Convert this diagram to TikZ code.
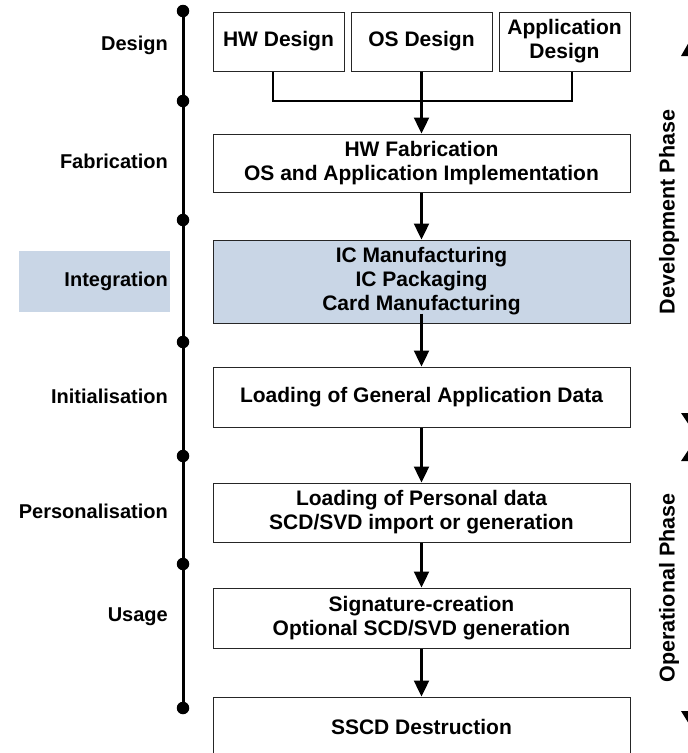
\documentclass[tikz,border=0pt]{standalone}
\usepackage{fontspec}
\setmainfont{Liberation Sans}
\usetikzlibrary{arrows.meta}
\definecolor{hl}{HTML}{C9D6E6}
\begin{document}
\begin{tikzpicture}[x=1pt,y=-1pt,
  box/.style={draw=black!85,line width=1pt,minimum width=417pt,inner sep=0pt,align=center,font=\fontsize{21}{24}\selectfont\bfseries},
  lbl/.style={anchor=east,inner sep=0pt,font=\fontsize{20}{24}\selectfont\bfseries},
  phase/.style={rotate=90,inner sep=0pt,font=\fontsize{21.5}{24}\selectfont\bfseries},
  dot/.style={circle,fill=black,inner sep=0pt,minimum size=12.5pt},
  conn/.style={line width=2.4pt},
  arr/.style={line width=2.4pt,-{Triangle[length=16pt,width=15pt]}},
  tri/.style={fill=black}]
\useasboundingbox (0,0) rectangle (688,753);
\clip (0,0) rectangle (688,753);
% timeline
\foreach \n/\y in {d1/11,d2/101,d3/220,d4/342,d5/456,d6/564,d7/708}
  \node[dot] (\n) at (183,\y) {};
\draw[line width=3pt] (d1.center) -- (d7.center);
% labels
\node[fill=hl,minimum width=151pt,minimum height=61pt] (hlbox) at (94.5,281.5) {};
\node[lbl] (l1) at (168,45) {Design};
\node[lbl] (l2) at (168,161) {Fabrication};
\node[lbl] (l3) at (168,281) {Integration};
\node[lbl] (l4) at (168,396) {Initialisation};
\node[lbl] (l5) at (168,511) {Personalisation};
\node[lbl] (l6) at (168,617) {Usage};
% boxes
\node[box,minimum width=131pt,minimum height=59pt] (hw) at (278.5,41.5) {HW Design};
\node[box,minimum width=141pt,minimum height=59pt] (os) at (421.5,41.5) {OS Design};
\node[box,minimum width=131pt,minimum height=59pt] (app) at (564.5,41.5) {Application\\Design};
\node[box,minimum height=58pt] (fab) at (421.5,163) {HW Fabrication\\OS and Application Implementation};
\node[box,fill=hl,minimum height=83pt] (integ) at (421.5,281.5) {IC Manufacturing\\IC Packaging\\Card Manufacturing};
\node[box,minimum height=60pt] (init) at (421.5,397) {Loading of General Application Data};
\node[box,minimum height=59pt] (pers) at (421.5,512.5) {Loading of Personal data\\SCD/SVD import or generation};
\node[box,minimum height=60pt] (use) at (421.5,618) {Signature-creation\\Optional SCD/SVD generation};
\node[box,minimum height=59pt] (sscd) at (421.5,726.5) {SSCD Destruction};
% connectors
\coordinate (jl) at (273,101);
\coordinate (jr) at (572,101);
\draw[conn] ([xshift=-5.5pt]hw.south) -- (jl) -- (jr) -- ([xshift=7.5pt]app.south);
\draw[arr] (os.south) -- (fab.north);
\draw[arr] (fab.south) -- (integ.north);
\draw[arr] ([yshift=10pt]integ.south) -- (init.north);
\draw[arr] (init.south) -- (pers.north);
\draw[arr] (pers.south) -- (use.north);
\draw[arr] (use.south) -- (sscd.north);
% phases
\node[phase] (dev) at (669,212) {Development Phase};
\node[phase] (op) at (669,588) {Operational Phase};
\fill[tri] (681,56) -- (697,28) -- (713,56) -- cycle;
\fill[tri] (681,413) -- (713,413) -- (697,437) -- cycle;
\fill[tri] (681,461) -- (697,437) -- (713,461) -- cycle;
\fill[tri] (681,711) -- (713,711) -- (697,737) -- cycle;
\end{tikzpicture}
\end{document}
